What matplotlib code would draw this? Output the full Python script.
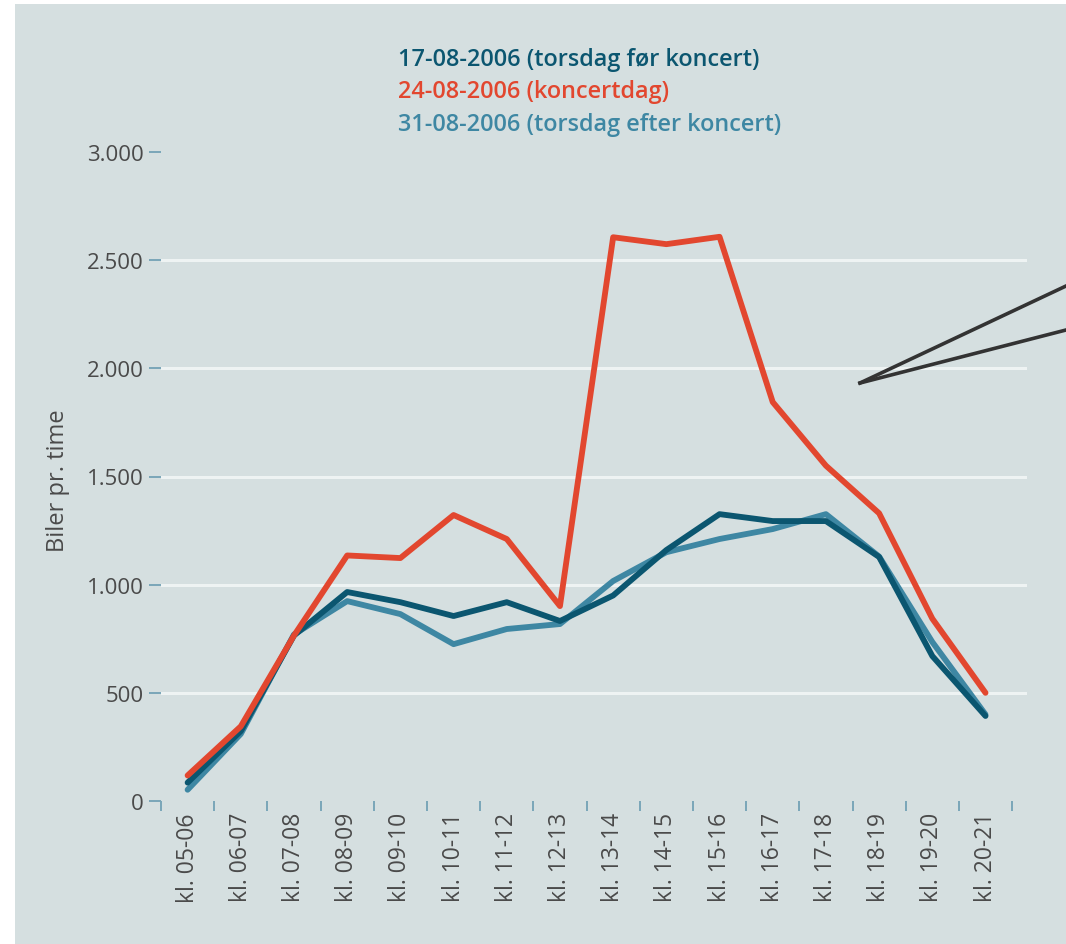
import matplotlib
matplotlib.use("Agg")
import matplotlib.pyplot as plt
from matplotlib.patches import Rectangle
from matplotlib.lines import Line2D

categories = ["kl. 05-06", "kl. 06-07", "kl. 07-08", "kl. 08-09", "kl. 09-10", "kl. 10-11",
              "kl. 11-12", "kl. 12-13", "kl. 13-14", "kl. 14-15", "kl. 15-16", "kl. 16-17",
              "kl. 17-18", "kl. 18-19", "kl. 19-20", "kl. 20-21"]
before = [85, 323, 765, 966, 919, 855, 919, 832, 950, 1160, 1326, 1294, 1294, 1128, 670, 393]
concert = [118, 345, 765, 1135, 1123, 1322, 1211, 901, 2606, 2574, 2608, 1844, 1550, 1330, 843, 500]
after = [52, 310, 770, 924, 864, 725, 795, 818, 1017, 1150, 1211, 1257, 1326, 1130, 735, 400]
labels = ["17-08-2006 (torsdag før koncert)", "24-08-2006 (koncertdag)",
          "31-08-2006 (torsdag efter koncert)"]
yticks = [0, 500, 1000, 1500, 2000, 2500, 3000]
ytick_labels = ["0", "500", "1.000", "1.500", "2.000", "2.500", "3.000"]
grid_vals = [500, 1000, 1500, 2000, 2500]

c_dark = "#0b5670"
c_red = "#e2472f"
c_light = "#3e87a3"
bg = "#d5dfe0"
txt = "#4a4a4a"
tickc = "#7aa6b8"

plt.rcParams['font.family'] = ['Open Sans', 'DejaVu Sans']

W, H = 1066, 945
fig = plt.figure(figsize=(W / 100, H / 100), dpi=100, facecolor="white")
fig.patches.append(Rectangle((15 / W, 0), 1 - 15 / W, 1 - 5 / H, transform=fig.transFigure,
                             facecolor=bg, edgecolor="none", zorder=-10))

ax = fig.add_axes([161 / W, 143 / H, (1027 - 161) / W, (802 - 153) / H])
ax.set_zorder(1)
ax.set_facecolor("none")
x = list(range(len(categories)))
ax.set_xlim(-0.5, 15.78)
ax.set_ylim(0, 3000)

for g in grid_vals:
    ax.axhline(g, color="#eef3f3", lw=2.2, zorder=1)

ax.plot(x, after, color=c_light, lw=4.2, zorder=3, solid_joinstyle="round", solid_capstyle="round")
ax.plot(x, before, color=c_dark, lw=4.2, zorder=4, solid_joinstyle="round", solid_capstyle="round")
ax.plot(x, concert, color=c_red, lw=4.2, zorder=5, solid_joinstyle="round", solid_capstyle="round")

for s in ax.spines.values():
    s.set_visible(False)

ax.set_yticks(yticks)
ax.set_yticklabels(ytick_labels)
ax.tick_params(axis="y", direction="out", length=8.5, width=1.4, color=tickc, pad=4,
               labelsize=16, labelcolor=txt)

ax.set_xticks(x)
ax.set_xticklabels(categories, rotation=90, va="top", ha="center")
ax.tick_params(axis="x", which="major", length=0, pad=8, labelsize=16.5, labelcolor=txt)
ax.set_xticks([i - 0.5 for i in range(len(categories) + 1)], minor=True)
ax.tick_params(axis="x", which="minor", direction="out", length=7.5, width=1.4, color=tickc)

ax.set_ylabel("Biler pr. time", fontsize=17, color=txt)
ax.yaxis.set_label_coords((70 - 161) / 866, (802 - 481) / 649)

cols = [c_dark, c_red, c_light]
for i, (lab, c) in enumerate(zip(labels, cols)):
    fig.text(398 / W, 1 - (60 + 32.5 * i) / H, lab, color=c, fontsize=16.9,
             fontweight="semibold", ha="left", va="center")

fig.lines.append(Line2D([860 / W, 1.0], [1 - 384 / H, 1 - 287 / H], transform=fig.transFigure,
                        color="#333333", lw=2.6))
fig.lines.append(Line2D([860 / W, 1.0], [1 - 384 / H, 1 - 331 / H], transform=fig.transFigure,
                        color="#333333", lw=2.6))

fig.savefig("out.png", dpi=100, facecolor="white")
